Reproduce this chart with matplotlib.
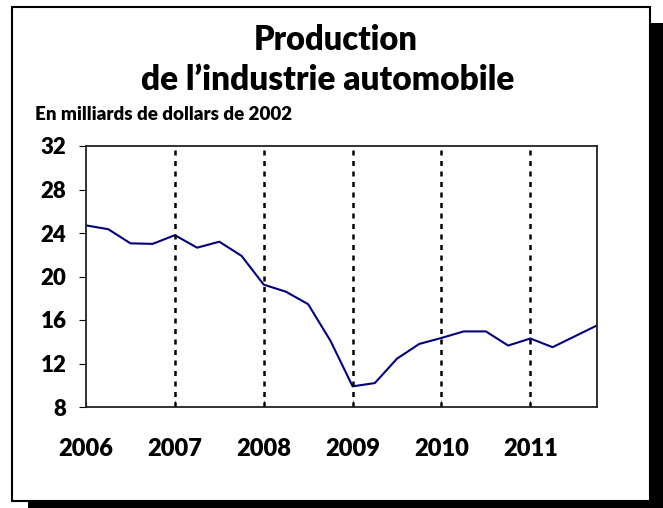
import matplotlib
matplotlib.use("Agg")
import matplotlib.pyplot as plt
from matplotlib.patches import Rectangle

# Production trimestrielle, en milliards de dollars de 2002
years = [2006, 2007, 2008, 2009, 2010, 2011]
production = [24.7, 24.35, 23.05, 23.0,
              23.8, 22.65, 23.2, 21.9,
              19.25, 18.6, 17.45, 14.1,
              9.9, 10.2, 12.45, 13.8,
              14.35, 14.95, 14.95, 13.65,
              14.3, 13.5, 14.5, 15.5]
quarters = [years[0] + i / 4 for i in range(len(production))]
y_ticks = [8, 12, 16, 20, 24, 28, 32]

plt.rcParams['font.family'] = ['Lato', 'DejaVu Sans']
plt.rcParams['font.weight'] = 'heavy'
WT = 'heavy'

W, H = 663, 508
fig = plt.figure(figsize=(W / 100, H / 100), dpi=100)

# cadre avec ombre portée
fig.patches.append(Rectangle((28 / W, 0), 1 - 28 / W, 1 - 23 / H, transform=fig.transFigure,
                             facecolor='black', edgecolor='none', zorder=0))
fig.patches.append(Rectangle((12 / W, 1 - 501 / H), 638 / W, 494 / H, transform=fig.transFigure,
                             facecolor='white', edgecolor='black', linewidth=1.5, zorder=1))

ax = fig.add_axes([86 / W, 1 - 407 / H, 511 / W, 261 / H])
ax.set_zorder(2)
ax.plot(quarters, production, color='#000080', linewidth=1.5)

for yr in years[1:]:
    ax.axvline(yr, color='black', linestyle=(0, (2, 2.2)), linewidth=1.8)

ax.set_xlim(2006, 2011.75)
ax.set_ylim(8, 32)
ax.set_yticks(y_ticks)
ax.set_yticklabels([str(v) for v in y_ticks])
ax.set_xticks(years)
ax.set_xticklabels([str(v) for v in years])
ax.tick_params(axis='x', direction='in', length=4, pad=22)
ax.tick_params(axis='y', direction='out', length=5, pad=9)
for lab in ax.get_yticklabels():
    lab.set_fontsize(16)
    lab.set_fontweight(WT)
for lab in ax.get_xticklabels():
    lab.set_fontsize(17)
    lab.set_fontweight(WT)
for s in ax.spines.values():
    s.set_linewidth(1.3)
    s.set_color('#222222')

fig.text(336 / W, 1 - 40 / H, "Production", ha='center', va='center', fontsize=23.5, fontweight=WT)
fig.text(328 / W, 1 - 80 / H, "de l\u2019industrie automobile", ha='center', va='center',
         fontsize=24, fontweight=WT)
fig.text(35 / W, 1 - 114 / H, "En milliards de dollars de 2002", ha='left', va='center',
         fontsize=13.5, fontweight=WT)

fig.savefig("out.png", dpi=100)
